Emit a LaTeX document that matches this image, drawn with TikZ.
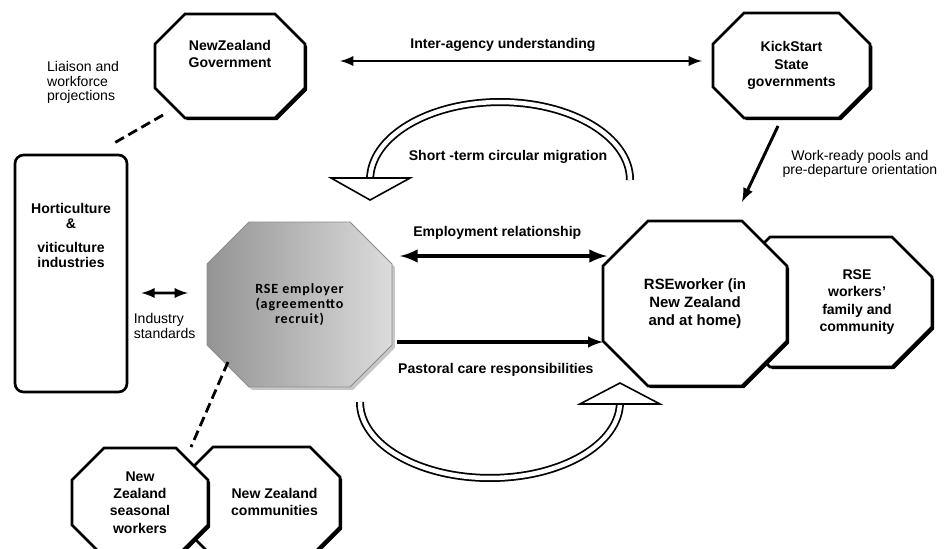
\documentclass[tikz,border=0pt]{standalone}
\usepackage{fontspec}
\setsansfont{Liberation Sans}
\newfontfamily\rsefont{Carlito}[LetterSpace=6]
\usetikzlibrary{positioning,calc,backgrounds,shadows}

% Achteck um einen Knoten (#2: Name, #3: Abschnitt)
\newcommand{\octashape}[3][]{%
  \draw[#1] ($(#2.north west)+(#3,0)$) -- ($(#2.north east)+(-#3,0)$)
    -- ($(#2.north east)+(0,#3)$) -- ($(#2.south east)+(0,-#3)$)
    -- ($(#2.south east)+(-#3,0)$) -- ($(#2.south west)+(#3,0)$)
    -- ($(#2.south west)+(0,-#3)$) -- ($(#2.north west)+(0,#3)$) -- cycle;}

\begin{document}
\begin{tikzpicture}[>=latex,x=0.02cm,y=-0.02cm,
  font=\sffamily\fontsize{8}{8.2}\selectfont,
  octa/.style={inner sep=0pt, outer sep=0pt, align=center,
    font=\sffamily\bfseries\fontsize{8}{9.8}\selectfont},
  octline/.style={draw, line width=1.5pt, fill=white,
    drop shadow={shadow xshift=0.45mm, shadow yshift=-0.45mm, fill=black, opacity=1}},
  roundbox/.style={draw, line width=1.5pt, rounded corners=1.7mm, fill=white, inner sep=0pt,
    align=center, font=\sffamily\bfseries\fontsize{8}{8.6}\selectfont},
  txt/.style={inner sep=1pt, font=\sffamily\fontsize{8}{8.2}\selectfont},
  txtb/.style={inner sep=1pt, font=\sffamily\bfseries\fontsize{8}{9.8}\selectfont},
  dashlink/.style={dash pattern=on 2mm off 1mm, line width=1.6pt},
  band/.style={line width=1pt, double=white, double distance=0.9mm},
  arrowhead/.style={draw, line width=0.9pt, fill=white, line join=miter}]
  \useasboundingbox (0,0) rectangle (945,548);
  \clip (0,0) rectangle (945,548);

  % Knoten
  \node[roundbox, minimum width=22.4mm, minimum height=47.4mm] (hort) at (71,273.5)
    {Horticulture\\\&\\[5pt]viticulture\\industries\\[35pt]\mbox{}};
  \node[octa, minimum width=30mm, minimum height=20.8mm] (nzgov) at (230,66)
    {NewZealand\\Government\\[4.4pt]\mbox{}};
  \node[octa, minimum width=31.4mm, minimum height=21mm] (kick) at (791.5,65.5)
    {KickStart\\State\\governments};
  \node[octa, font=\rsefont\bfseries\fontsize{8}{8.4}\selectfont,
    minimum width=37mm, minimum height=33mm] (rseemp) at (299.5,304.5)
    {RSE employer\\(agreementto\\recruit)};
  \node[octa, minimum width=40.4mm, minimum height=26mm] (family) at (831,302)
    {\hspace*{10.4mm}RSE\\\hspace*{10.4mm}workers'\\\hspace*{10.4mm}family and\\\hspace*{10.4mm}community};
  \node[octa, minimum width=36.8mm, minimum height=33mm,
    font=\sffamily\bfseries\fontsize{8.5}{10.2}\selectfont] (rsew) at (695,303.5)
    {RSEworker (in\\New Zealand\\and at home)};
  \node[octa, minimum width=31.4mm, minimum height=22mm] (comm) at (261.5,502)
    {\hspace*{5.2mm}New Zealand\\\hspace*{5.2mm}communities};
  \node[octa, minimum width=27.2mm, minimum height=21.8mm] (seas) at (140,502.5)
    {New\\Zealand\\seasonal\\workers};

  % Achtecke
  \begin{scope}[on background layer]
    \clip (0,0) rectangle (945,548);
    \octashape[octline]{nzgov}{30}
    \octashape[octline]{kick}{31}
    \octashape[draw=black!45, line width=0.5pt, left color=black!42, right color=black!14,
      drop shadow={shadow xshift=0.6mm, shadow yshift=-0.6mm, fill=black!22, opacity=1}]{rseemp}{42}
    \octashape[octline]{family}{40}
    \octashape[octline]{rsew}{45}
    \octashape[octline]{comm}{30}
    \octashape[octline]{seas}{32}
  \end{scope}

  % Pfeile
  \draw[<->, line width=1.6pt] ([shift={(35,-5)}]nzgov.east) -- ([shift={(-11,-4.5)}]kick.west)
    node[txtb, pos=.45, above=3.5pt] {Inter-agency understanding};
  \draw[<->, line width=2.4pt] ([shift={(8,-48.5)}]rseemp.east) -- ([shift={(4,-47.5)}]rsew.west)
    node[txtb, pos=.47, above=7pt] {Employment relationship};
  \draw[->, line width=1.9pt] ([shift={(5,37.5)}]rseemp.east) -- ([shift={(0,38.5)}]rsew.west)
    node[txtb, pos=.48, below=10pt] {Pastoral care responsibilities};
  \draw[<->, line width=1.6pt] ([shift={(13,19.5)}]hort.east) -- ([shift={(-19,-11.5)}]rseemp.west)
    node[txt, midway, below=10pt, align=left] {Industry\\standards};
  \draw[->, line width=1.7pt] ([shift={(-13.5,8)}]kick.south) -- ([shift={(47,-19)}]rsew.north)
    node[txt, midway, right=11pt, align=center] {Work-ready pools and\\pre-departure orientation};

  % Gestrichelte Linien
  \draw[dashlink] ([shift={(-67,-3)}]nzgov.south) -- ([shift={(42,-10)}]hort.north)
    node[txt, midway, above left=13pt and 9pt, align=left] {Liaison and\\workforce\\projections};
  \draw[dashlink] ([shift={(-71.5,-25)}]rseemp.south) -- ([shift={(51,-1)}]seas.north);

  % Kreislauf
  \draw[band] ([shift={(-65,-41)}]rsew.north) arc[start angle=0, end angle=180, x radius=26mm, y radius=15.6mm]
    coordinate (migend);
  \draw[arrowhead] ([shift={(-39,-2)}]migend) -- ([shift={(40,-2)}]migend) -- ([shift={(0,20)}]migend) -- cycle;
  \node[txtb] (migtext) at (508,157) {Short -term circular migration};
  \draw[band] ([shift={(60.5,15)}]rseemp.south) arc[start angle=180, end angle=360, x radius=26mm, y radius=15.2mm]
    coordinate (careend);
  \draw[arrowhead] ([shift={(-40,2)}]careend) -- ([shift={(40,2)}]careend) -- ([shift={(0,-19)}]careend) -- cycle;
\end{tikzpicture}
\end{document}
